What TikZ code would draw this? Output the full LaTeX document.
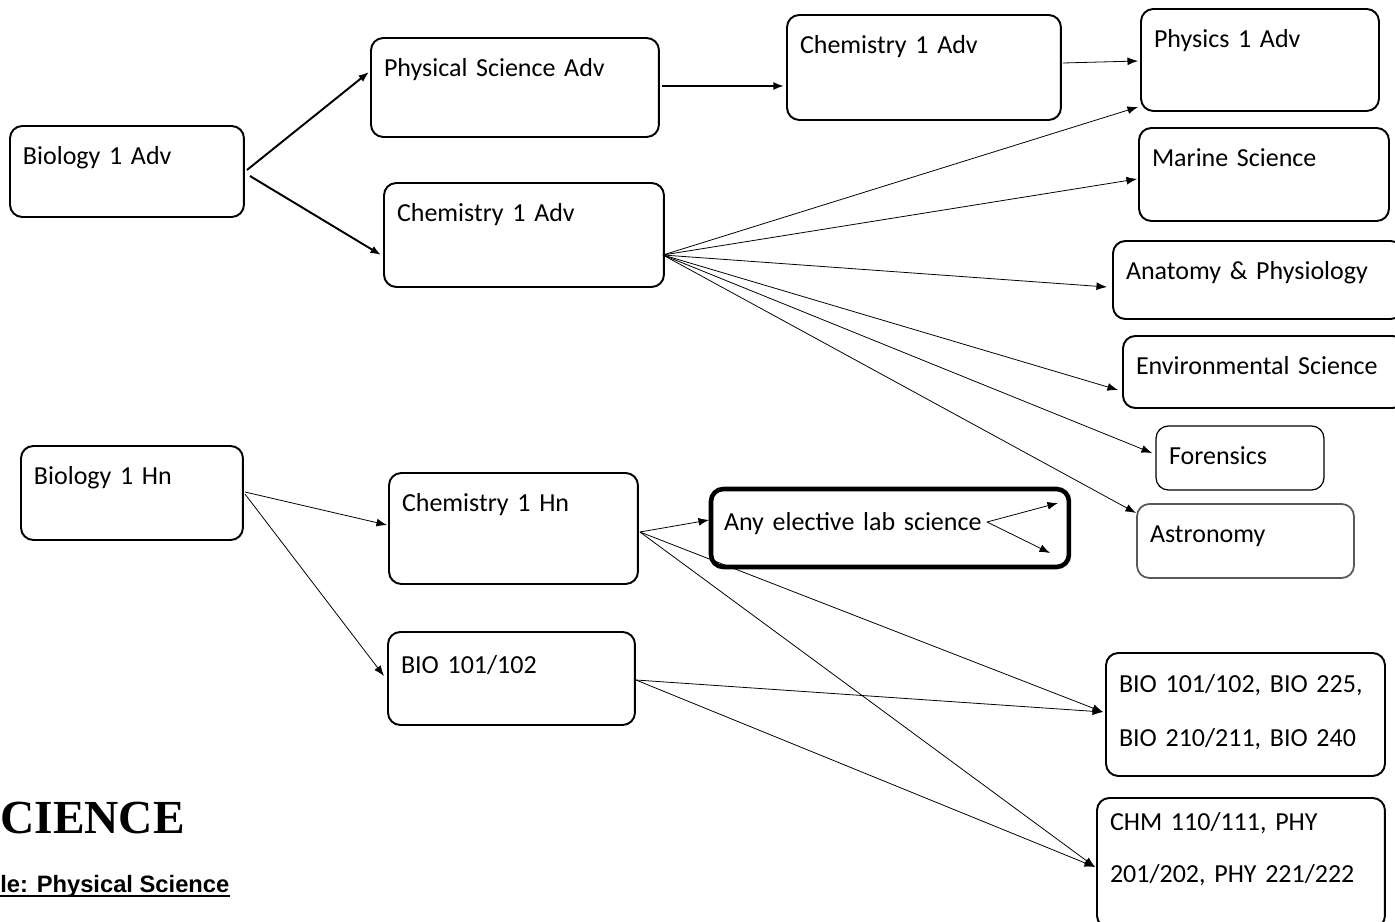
\documentclass[tikz,border=0pt]{standalone}
\usepackage{fontspec}
\setmainfont{Carlito}
\newfontfamily\titlefont{Liberation Serif}
\newfontfamily\headfont{Liberation Sans}
\usetikzlibrary{arrows.meta,calc}

\begin{document}
\begin{tikzpicture}[x=0.02cm, y=-0.02cm,
    course/.style={draw, line width=1.1pt, rounded corners=7pt, anchor=north west,
        outer sep=0pt, inner xsep=0.26cm, inner ysep=0.46cm, align=left,
        text height=0.32cm, font=\fontsize{14.8pt}{18pt}\selectfont},
    link/.style={line width=1.1pt, -{Latex[length=6pt,width=4.5pt]}},
    thin link/.style={line width=0.45pt, -{Latex[length=6pt,width=4.5pt]}}]
    \useasboundingbox (0,0) rectangle (1395,922);

    % advanced track
    \node[course, text width=4.16cm, text depth=0.58cm] (bioadv) at (10,126) {Biology 1 Adv};
    \node[course, text width=5.24cm, text depth=0.74cm] (physadv) at (371,38) {Physical Science Adv};
    \node[course, text width=4.96cm, text depth=0.86cm] (chemtop) at (787,15) {Chemistry 1 Adv};
    \node[course, text width=5.08cm, text depth=0.84cm] (chemadv) at (384,183) {Chemistry 1 Adv};

    % electives
    \node[course, text width=4.24cm, text depth=0.80cm] (physics) at (1141,9) {Physics 1 Adv};
    \node[course, text width=4.48cm, text depth=0.62cm] (marine) at (1139,128) {Marine Science};
    \node[course, text width=5.28cm, text depth=0.32cm] (anatomy) at (1113,241) {Anatomy \& Physiology};
    \node[course, text width=5.12cm, text depth=0.20cm] (envsci) at (1123,336) {Environmental Science};
    \node[course, line width=0.7pt, text width=2.84cm, text depth=0.04cm] (forensics) at (1156,426) {Forensics};
    \node[course, draw=black!65, line width=1pt, text width=3.82cm, text depth=0.24cm] (astronomy) at (1137,504) {Astronomy};

    % honors track
    \node[course, text width=3.92cm, text depth=0.64cm] (biohn) at (21,446) {Biology 1 Hn};
    \node[course, text width=4.46cm, text depth=0.98cm] (chemhn) at (389,473) {Chemistry 1 Hn};
    \node[course, text width=4.42cm, text height=0.36cm, text depth=0.58cm] (bio101) at (388,632) {BIO 101/102};
    \node[course, line width=2.6pt, text width=6.64cm, text height=0.38cm, text depth=0.26cm] (anylab) at (711,489) {Any elective lab science};
    \node[course, text width=5.06cm, text depth=1.22cm, font=\fontsize{14.8pt}{31.2pt}\selectfont] (bioset) at (1106,653)
        {BIO 101/102, BIO 225,\\BIO 210/211, BIO 240};
    \node[course, text width=5.24cm, text height=0.18cm, text depth=1.50cm, font=\fontsize{14.8pt}{30pt}\selectfont] (chmset) at (1097,798)
        {CHM 110/111, PHY\\201/202, PHY 221/222};

    % heading
    \node[anchor=base west, inner sep=0pt, font=\titlefont\bfseries\fontsize{27pt}{30pt}\selectfont] (title) at (0,833) {CIENCE};
    \node[anchor=base west, inner sep=0pt, font=\headfont\bfseries\fontsize{13.5pt}{16pt}\selectfont] (subtitle) at (0,892) {le: Physical Science};
    \draw[line width=1.1pt] ($(subtitle.base west)+(0,4)$) -- ($(subtitle.base east)+(0,4)$);

    % advanced arrows
    \draw[link] ($(bioadv.north east)+(3,44)$) -- ($(physadv.north west)+(-2,34)$);
    \draw[link] ($(bioadv.north east)+(6,50)$) -- ($(chemadv.north west)+(-3,72)$);
    \draw[link] ($(physadv.north east)+(3,48)$) -- ($(chemtop.north west)+(-3,71)$);
    \draw[thin link] ($(chemtop.north east)+(2,48)$) -- ($(physics.north west)+(-3,52)$);

    \coordinate (chemadv out) at ($(chemadv.north east)+(-1,72)$);
    \draw[thin link] (chemadv out) -- ($(physics.south west)+(-3,-4)$);
    \draw[thin link] (chemadv out) -- ($(marine.north west)+(-2,51)$);
    \draw[thin link] (chemadv out) -- ($(anatomy.north west)+(-6,46)$);
    \draw[thin link] (chemadv out) -- ($(envsci.north west)+(-5,54)$);
    \draw[thin link] (chemadv out) -- ($(forensics.north west)+(-4,27)$);
    \draw[thin link] (chemadv out) -- ($(astronomy.north west)+(-1,9)$);

    % honors arrows
    \draw[thin link] ($(biohn.north east)+(2,46)$) -- ($(chemhn.north west)+(-2,52)$);
    \draw[thin link] ($(biohn.north east)+(2,48)$) -- ($(bio101.north west)+(-4,44)$);

    \coordinate (chemhn out) at ($(chemhn.north east)+(2,59)$);
    \draw[thin link] (chemhn out) -- ($(anylab.north west)+(-2,31)$);
    \draw[thin link] (chemhn out) -- ($(bioset.north west)+(-3,59)$);
    \draw[thin link] (chemhn out) -- ($(chmset.north west)+(-2,69)$);

    \coordinate (bio101 out) at ($(bio101.north east)+(1,48)$);
    \draw[thin link] (bio101 out) -- ($(bioset.north west)+(-3,59)$);
    \draw[thin link] (bio101 out) -- ($(chmset.north west)+(-2,69)$);

    \coordinate (anylab out) at ($(anylab.north west)+(276,33)$);
    \coordinate (anylab up) at ($(anylab.north west)+(347,14)$);
    \coordinate (anylab down) at ($(anylab.north west)+(339,64)$);
    \draw[thin link] (anylab out) -- (anylab up);
    \draw[thin link] (anylab out) -- (anylab down);
\end{tikzpicture}
\end{document}
